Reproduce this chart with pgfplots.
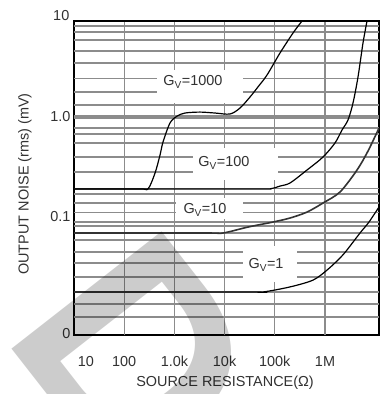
\documentclass[border=0pt]{standalone}
\usepackage{fontspec}
\setmainfont{Liberation Sans}
\usepackage{pgfplots}
\pgfplotsset{compat=1.18}
\definecolor{gridc}{RGB}{140,140,140}
\definecolor{txt}{RGB}{50,50,50}
\begin{document}
\begin{tikzpicture}[x=1bp,y=1bp]
\useasboundingbox (0,0) rectangle (383,394);
\begin{axis}[
  at={(74bp,59bp)}, anchor=south west,
  scale only axis, width=305bp, height=314bp,
  xmode=log, ymode=log,
  xmin=10, xmax=1.19e7, ymin=0.00661, ymax=9.12,
  xtick={17.3,100,1000,10000,100000,1000000},
  xticklabels={10,100,1.0k,10k,100k,1M},
  ytick={0.0069,0.1,1},
  yticklabels={0,0.1,1.0},
  xminorticks=false, yminorticks=false,
  major tick length=0pt,
  xticklabel shift=18bp,
  ticklabel style={font=\fontsize{14.5}{16}\selectfont, text=txt},
  extra x ticks={100,1000,10000,100000,1000000},
  extra x tick labels={},
  extra x tick style={grid=major, major grid style={gridc, line width=1.2bp}},
  extra y ticks={8.13,7.08,5.89,4.57,3.47,2.45,1.78,1.32,0.776,0.676,0.550,0.398,0.282,0.191,0.170,0.138,0.112,0.0891,0.0813,0.0692,0.0589,0.0447,0.0347,0.0251,0.0178,0.0135,0.0100},
  extra y tick labels={},
  extra y tick style={grid=major, major grid style={gridc, line width=1.1bp}},
  axis line style={black, line width=1.5bp},
  clip=false,
]
\draw[gridc, line width=4bp] (axis cs:10,1) -- (axis cs:1.19e7,1);
% Gv = 1000
\addplot[black, line width=1.2bp, smooth, tension=0.5] coordinates {
(10,0.191) (200,0.191) (298,0.191) (411,0.275) (517,0.417) (593,0.562) (817,0.871) (1127,1.02) (1626,1.096) (3236,1.12) (6442,1.096) (12820,1.072) (20280,1.23) (32060,1.585) (46240,2.0) (69980,2.63) (127000,4.37) (230700,6.92) (348300,9.12)};
% Gv = 100
\addplot[black, line width=1.2bp, smooth, tension=0.5] coordinates {
(10,0.191) (40000,0.191) (80170,0.191) (127000,0.204) (201000,0.219) (437500,0.295) (912000,0.398) (1.58e6,0.55) (2.18e6,0.741) (2.87e6,0.933) (3.61e6,1.38) (4.54e6,2.51) (5.71e6,5.5) (6.87e6,9.12)};
% Gv = 10
\addplot[black!80, line width=1.6bp, smooth, tension=0.5] coordinates {
(10,0.0692) (4000,0.0692) (9290,0.0692) (29240,0.0794) (92000,0.0891) (201000,0.0977) (437500,0.112) (912000,0.138) (1.99e6,0.178) (4.34e6,0.295) (7.19e6,0.457) (1.19e7,0.776)};
% Gv = 1
\addplot[black, line width=1.2bp, smooth, tension=0.5] coordinates {
(10,0.0178) (30000,0.0178) (58210,0.0178) (201000,0.020) (577000,0.0234) (1.10e6,0.0295) (1.99e6,0.0389) (2.74e6,0.0468) (4.98e6,0.0692) (7.52e6,0.0891) (1.19e7,0.126)};
\draw[black, line width=2.6bp] (rel axis cs:0,1) -- (rel axis cs:1,1);
\end{axis}
% label boxes
\fill[white] (157,394-70) rectangle (243,394-103);
\fill[white] (193,394-148) rectangle (278,394-180);
\fill[white] (176,394-198) rectangle (243,394-219);
\fill[white] (243,394-246) rectangle (297,394-282);
\begin{scope}[every node/.style={font=\fontsize{14.5}{16}\selectfont, text=txt, inner sep=0pt}]
\node at (193,394-82) {G\textsubscript{V}=1000};
\node at (224,394-163) {G\textsubscript{V}=100};
\node at (205,394-210) {G\textsubscript{V}=10};
\node at (266,394-265) {G\textsubscript{V}=1};
\node[anchor=east] at (69.5,394-16) {10};
\node[rotate=90] at (25,394-184) {OUTPUT NOISE (rms) (mV)};
\node at (225,394-383) {SOURCE RESISTANCE(Ω)};
\end{scope}
\node[rotate=-52, anchor=base west, inner sep=0pt, text=black, text opacity=0.2, font=\fontsize{278}{278}\selectfont\bfseries] at (0,60) {D};
\end{tikzpicture}
\end{document}
